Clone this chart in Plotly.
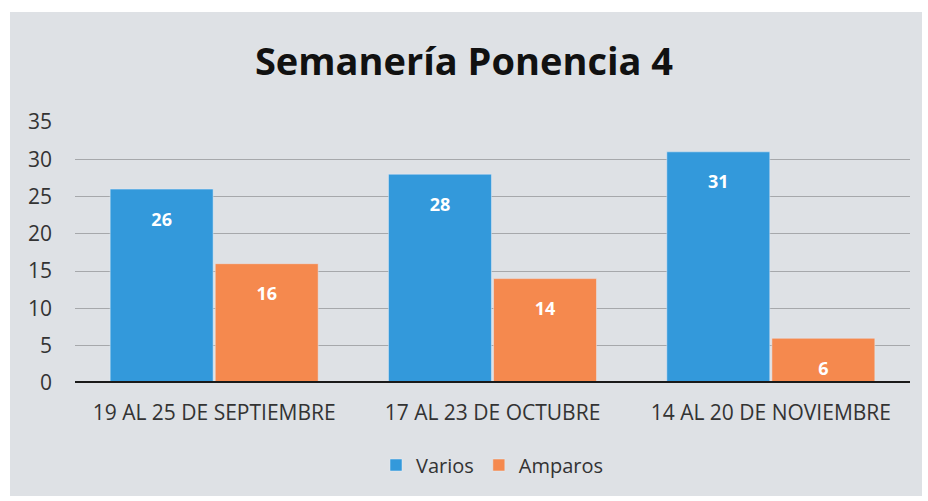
import plotly.graph_objects as go

categories = ["19 AL 25 DE SEPTIEMBRE", "17 AL 23 DE OCTUBRE", "14 AL 20 DE NOVIEMBRE"]
varios = [26, 28, 31]
amparos = [16, 14, 6]
y_ticks = [0, 5, 10, 15, 20, 25, 30, 35]

FONT = "Open Sans"
L, R, T, B = 75, 18, 122, 118
W, H = 928, 501
pw, ph = W - L - R, H - T - B

label_tpl = "<span style='font-size:9px'> </span><br><b>%{y}</b>"

fig = go.Figure()
fig.add_trace(go.Bar(name="Varios", x=categories, y=varios, marker_color="#3399db",
                     texttemplate=label_tpl, textposition="inside", insidetextanchor="end",
                     textfont=dict(color="white", size=18, family=FONT)))
fig.add_trace(go.Bar(name="Amparos", x=categories, y=amparos, marker_color="#f5894e",
                     texttemplate=label_tpl, textposition="inside", insidetextanchor="end",
                     textfont=dict(color="white", size=18, family=FONT)))

def px_x(p):
    return (p - L) / pw

def px_y(p):
    return (H - B - p) / ph

fig.update_layout(
    width=W, height=H,
    margin=dict(l=L, r=R, t=T, b=B),
    paper_bgcolor="white",
    plot_bgcolor="rgba(0,0,0,0)",
    barmode="group", bargap=0.245, bargroupgap=0.02,
    title=dict(text="<b>Semanería Ponencia 4</b>", x=0.5, xanchor="center",
               y=1 - 62 / H, yanchor="middle",
               font=dict(family=FONT, size=38, color="#111111")),
    font=dict(family=FONT, color="#333333", size=20),
    showlegend=True,
    legend=dict(orientation="h", x=0.5, xanchor="center", y=px_y(465), yanchor="middle",
                font=dict(size=20, color="#333333"), bgcolor="rgba(0,0,0,0)",
                itemwidth=30, tracegroupgap=0),
    xaxis=dict(showgrid=False, showline=False, ticks="", ticklabelstandoff=15,
               tickfont=dict(size=21, color="#333333")),
    yaxis=dict(range=[0, 35], tickvals=y_ticks, showgrid=True, gridcolor="#a6a8ab", gridwidth=1,
               zeroline=False, showline=False, ticks="", ticklabelstandoff=22,
               tickfont=dict(size=21, color="#333333")),
    shapes=[
        dict(type="rect", xref="paper", yref="paper", layer="below",
             x0=px_x(10), x1=px_x(922), y0=px_y(496), y1=px_y(12),
             fillcolor="#dee1e5", line=dict(width=0)),
        dict(type="line", xref="paper", yref="y", layer="above",
             x0=0, x1=1, y0=0, y1=0, line=dict(color="#1a1a1a", width=4)),
    ],
)

fig.write_html("out.html", config={"displayModeBar": False},
               post_script="document.body.style.margin='0';document.body.style.overflow='hidden';")
